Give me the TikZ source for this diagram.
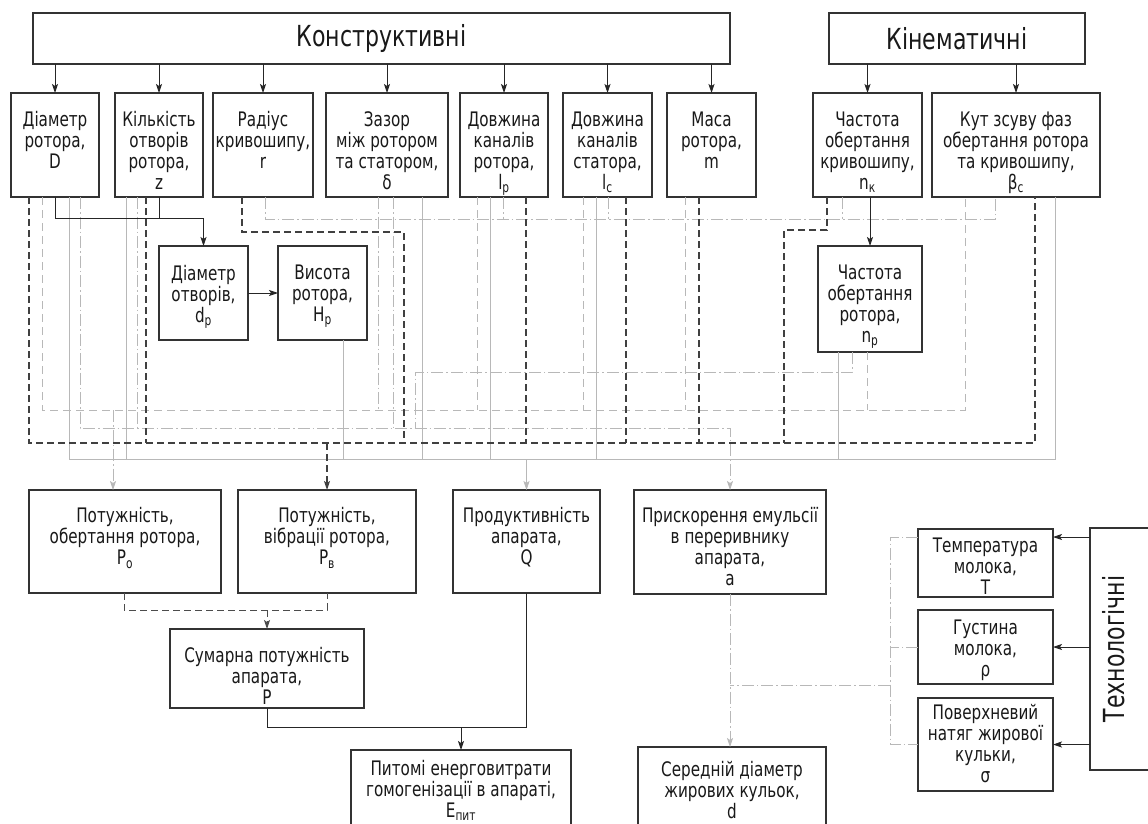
\documentclass[tikz,border=0pt]{standalone}
\usepackage{fontspec}
\setmainfont{DejaVu Sans}[FakeStretch=0.76]
\usetikzlibrary{arrows.meta,calc}
\newcommand\bxtext{\fontsize{20}{21}\selectfont}
\newcommand\hdtext{\fontsize{29}{32}\selectfont}
\newcommand\mybox[7]{%
  \node[box, minimum width={#4-#2}, minimum height={#5-#3}, anchor=north west] (#1) at (#2,#3) {};
  \node[txt, anchor=north] (#1t) at ([yshift=-#7pt]#1.north) {#6};}
\tikzset{
  box/.style={draw=black!80, line width=1.3pt, inner sep=0pt, outer sep=0pt, fill=white},
  txt/.style={align=center, inner sep=0pt, font=\bxtext, text=black!90},
  tip/.style={-{Stealth[length=9pt,width=6pt,inset=2pt]}},
  arr/.style={draw=black!85, line width=0.9pt, tip},
  dsol/.style={draw=black!85, line width=0.9pt},
  ddash/.style={draw=black!75, line width=1.4pt, dash pattern=on 7pt off 4pt},
  mdash/.style={draw=black!70, line width=1pt, dash pattern=on 7pt off 4pt},
  ldash/.style={draw=black!28, line width=0.8pt, dash pattern=on 8pt off 5pt},
  ldd/.style={draw=black!28, line width=0.8pt, dash pattern=on 12pt off 3pt on 1.5pt off 3pt},
  lsol/.style={draw=black!28, line width=0.8pt},
}
\begin{document}
\begin{tikzpicture}[x=1pt,y=-1pt]
\useasboundingbox (0,0) rectangle (1148,824);

% headers
\node[box, minimum width=697, minimum height=51, anchor=north west, font=\hdtext, text=black!90] (K) at (33,13) {Конструктивні};
\node[box, minimum width=256, minimum height=51, anchor=north west, font=\hdtext, text=black!90] (Kin) at (829,13) {Кінематичні};
\node[box, minimum width=70, minimum height=242, anchor=north west] (Tech) at (1090,528) {};
\node[rotate=90, font=\hdtext, inner sep=0pt, text=black!90] (Techt) at ([xshift=24pt]Tech.west) {Технологічні};

% top row
\mybox{D}{11}{93}{99}{197}{Діаметр\\ротора,\\D}{18.5}
\mybox{Z}{115}{93}{203}{197}{Кількість\\отворів\\ротора,\\z}{18.5}
\mybox{R}{213}{93}{313}{197}{Радіус\\кривошипу,\\r}{18.5}
\mybox{G}{326}{93}{448}{197}{Зазор\\між ротором\\та статором,\\δ}{18.5}
\mybox{Lp}{460}{93}{548}{197}{Довжина\\каналів\\ротора,\\l\textsubscript{р}}{18.5}
\mybox{Lc}{563}{93}{652}{197}{Довжина\\каналів\\статора,\\l\textsubscript{с}}{18.5}
\mybox{M}{667}{93}{756}{197}{Маса\\ротора,\\m}{18.5}
\mybox{Nk}{813}{93}{922}{197}{Частота\\обертання\\кривошипу,\\n\textsubscript{к}}{18.5}
\mybox{B}{932}{93}{1100}{197}{Кут зсуву фаз\\обертання ротора\\та кривошипу,\\β\textsubscript{с}}{18.5}
% second row
\mybox{Dp}{159}{246}{248}{340}{Діаметр\\отворів,\\d\textsubscript{р}}{19}
\mybox{Hp}{278}{246}{367}{340}{Висота\\ротора,\\H\textsubscript{р}}{19}
\mybox{Np}{818}{246}{922}{352}{Частота\\обертання\\ротора,\\n\textsubscript{р}}{19}
% bottom rows
\mybox{Po}{29}{490}{221}{593}{Потужність,\\обертання ротора,\\P\textsubscript{о}}{17.5}
\mybox{Pv}{238}{490}{416}{593}{Потужність,\\вібрації ротора,\\P\textsubscript{в}}{17.5}
\mybox{Q}{453}{490}{600}{593}{Продуктивність\\апарата,\\Q}{17.5}
\mybox{A}{634}{490}{826}{594}{Прискорення емульсії\\в переривнику\\апарата,\\a}{17.5}
\mybox{P}{170}{629}{364}{708}{Сумарна потужність\\апарата,\\P}{18.5}
\mybox{E}{351}{750}{571}{830}{Питомі енерговитрати\\гомогенізації в апараті,\\E\textsubscript{пит}}{10}
\mybox{Dd}{638}{747}{826}{830}{Середній діаметр\\жирових кульок,\\d}{14.5}
\mybox{T}{918}{529}{1053}{597}{Температура\\молока,\\T}{8.5}
\mybox{Rho}{918}{610}{1053}{684}{Густина\\молока,\\ρ}{9.5}
\mybox{Sig}{918}{698}{1053}{791}{Поверхневий\\натяг жирової\\кульки,\\σ}{6.5}

% header arrows
\foreach \n in {D,Z,R,G,Lp,Lc,M} \draw[arr] (\n.north |- K.south) -- (\n.north);
\foreach \n in {Nk,B} \draw[arr] (\n.north |- Kin.south) -- (\n.north);

% bus levels
\coordinate (L219) at (0,219);
\coordinate (L410) at (0,410);
\coordinate (L428) at (0,428);
\coordinate (L443) at (0,443);
\coordinate (L459) at (0,459);

% drop points
\coordinate (D1) at ([xshift=18pt]D.south west);
\coordinate (D2) at ([xshift=31pt]D.south west);
\coordinate (D4) at ([xshift=58pt]D.south west);
\coordinate (D5) at ([xshift=69pt]D.south west);
\coordinate (Z1) at ([xshift=11pt]Z.south west);
\coordinate (Z2) at ([xshift=22pt]Z.south west);
\coordinate (Z3) at ([xshift=31pt]Z.south west);
\coordinate (R1) at ([xshift=29pt]R.south west);
\coordinate (R2) at ([xshift=52pt]R.south west);
\coordinate (G1) at ([xshift=52pt]G.south west);
\coordinate (G2) at ([xshift=67pt]G.south west);
\coordinate (G3) at ([xshift=96pt]G.south west);
\coordinate (G0) at ([xshift=78pt]G.south west);
\coordinate (G4) at ([xshift=89pt]G.south west);
\coordinate (Lp1) at ([xshift=17pt]Lp.south west);
\coordinate (Lp2) at ([xshift=30pt]Lp.south west);
\coordinate (Lp3) at ([xshift=43pt]Lp.south west);
\coordinate (Lp4) at ([xshift=66pt]Lp.south west);
\coordinate (Lc1) at ([xshift=20pt]Lc.south west);
\coordinate (Lc2) at ([xshift=33pt]Lc.south west);
\coordinate (Lc3) at ([xshift=45pt]Lc.south west);
\coordinate (Lc4) at ([xshift=63pt]Lc.south west);
\coordinate (M1) at ([xshift=18pt]M.south west);
\coordinate (M2) at ([xshift=32pt]M.south west);
\coordinate (Nk1) at ([xshift=14pt]Nk.south west);
\coordinate (Nk2) at ([xshift=29pt]Nk.south west);
\coordinate (Nk0) at ([xshift=-29pt]Nk.south west);
\coordinate (B1) at ([xshift=33pt]B.south west);
\coordinate (B2) at ([xshift=63pt]B.south west);
\coordinate (B3) at ([xshift=103pt]B.south west);
\coordinate (B4) at ([xshift=123pt]B.south west);
\coordinate (Hp1) at ([xshift=65pt]Hp.south west);
\coordinate (Np1) at ([xshift=20pt]Np.south west);
\coordinate (Np2) at ([xshift=34pt]Np.south west);
\coordinate (Np3) at ([xshift=49pt]Np.south west);
\coordinate (PoIn) at ([xshift=84pt]Po.north west);

% light solid bus (459) -> Q
\draw[lsol] (D4) |- (B4 |- L459) -- (B4);
\foreach \p in {Z1,G3,Lp2,Lc2,Hp1,Np1} \draw[lsol] (\p) -- (\p |- L459);
\draw[lsol,tip] (Q.north |- L459) -- (Q.north);

% light dashed bus (410) -> Po
\draw[ldash] (D2) |- (B1 |- L410) -- (B1);
\foreach \p in {Lp1,Lc1,M1,Np3} \draw[ldash] (\p) -- (\p |- L410);
\draw[ldd] (G1) -- (G1 |- L410);
\draw[ldd,tip] (PoIn |- L410) -- (PoIn);

% dash-dot bus (428) -> a
\draw[ldd,tip] (D5) |- (A.north |- L428) -- (A.north);
\foreach \p in {Z2,G2} \draw[ldd] (\p) -- (\p |- L428);
\draw[ldd] (Np2) -- ++(0,20) -| (G4 |- L428);

% dash-dot upper bus (219)
\draw[ldd] (R2) |- (B2 |- L219) -- (B2);
\foreach \p in {Lp3,Lc3,Nk2} \draw[ldd] (\p) -- (\p |- L219);

% dark dashed bus (443) -> Pv
\draw[ddash] (D1) |- (B3 |- L443) -- (B3);
\foreach \p in {Z3,Lp4,Lc4,M2} \draw[ddash] (\p) -- (\p |- L443);
\draw[ddash] (R1) -- ++(0,35) -| (G0 |- L443);
\draw[ddash] (Nk1) -- ++(0,33) -| (Nk0 |- L443);
\draw[ddash,tip] (Pv.north |- L443) -- (Pv.north);

% solid dark connections
\draw[arr] (D.south) -- ++(0,21) -| (Dp.north);
\draw[dsol] (Z.south) -- ++(0,21);
\draw[arr] (Dp.east) -- (Hp.west);
\draw[arr] (Np.north |- Nk.south) -- (Np.north);

% lower part
\draw[mdash] ([xshift=95pt]Po.south west) -- ++(0,17) -| (Pv.south);
\draw[mdash,tip] ($(P.north)+(0,-19)$) -- (P.north);
\draw[dsol] (P.south) -- ++(0,19) -| (Q.south);
\draw[arr] ($(E.north)+(0,-23)$) -- (E.north);
\draw[ldd,tip] (A.south) -- (A.south |- Dd.north);

% technological
\coordinate (Ta) at ([yshift=-8pt]T.north east);
\coordinate (Tb) at ([yshift=-8pt]T.north west);
\draw[arr] (Ta -| Tech.west) -- (Ta);
\draw[arr] (Rho.east -| Tech.west) -- (Rho.east);
\draw[arr] (Sig.east -| Tech.west) -- (Sig.east);
\draw[ldd] (Tb) -- ++(-28,0) |- (Sig.west);
\draw[ldd] (Rho.west) -- ++(-28,0);
\coordinate (J) at ([xshift=-28pt,yshift=-1pt]Rho.south west);
\draw[ldd] (J) -- (J -| A.south);
\end{tikzpicture}
\end{document}
